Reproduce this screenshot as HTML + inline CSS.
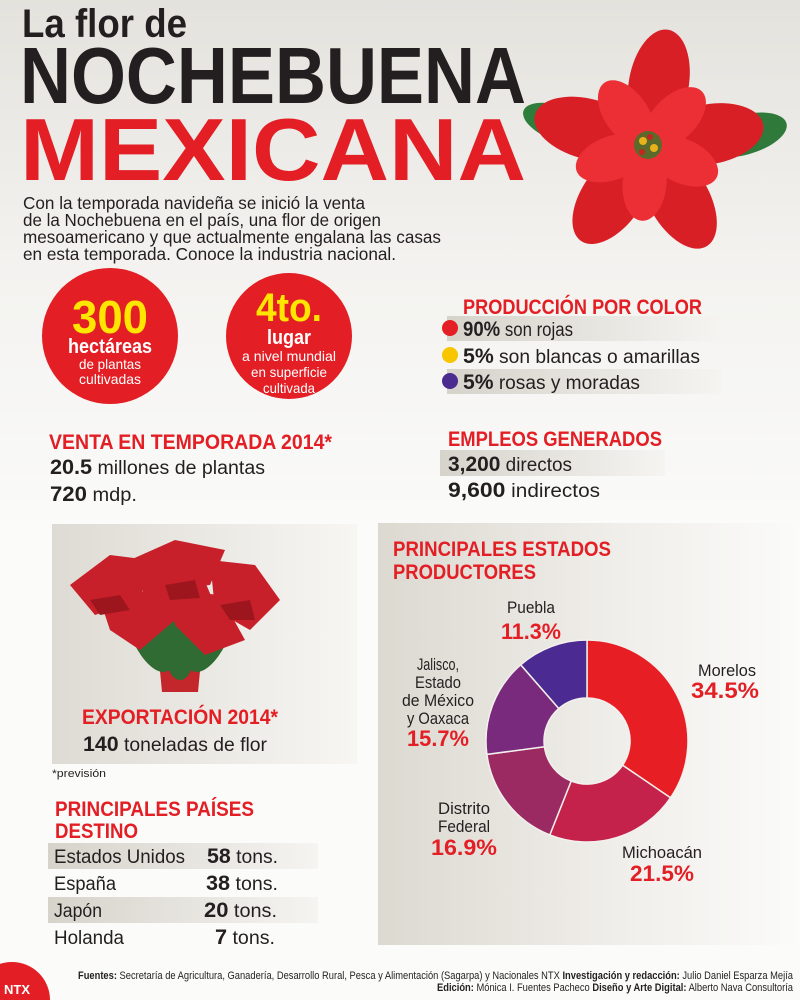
<!DOCTYPE html>
<html><head><meta charset="utf-8"><style>
html,body{margin:0;padding:0;width:800px;height:1000px;overflow:hidden;background:#fff}
svg{display:block}
text{font-family:"Liberation Sans Narrow","Liberation Sans",sans-serif}
</style></head><body>
<svg width="800" height="1000" viewBox="0 0 800 1000" xmlns="http://www.w3.org/2000/svg">
<defs>
<linearGradient id="bg" x1="0" y1="0" x2="0" y2="1"><stop offset="0" stop-color="#e4e2dd"/><stop offset="0.5" stop-color="#f3f2ef"/><stop offset="1" stop-color="#fafaf9"/></linearGradient>
<linearGradient id="pl" x1="0" y1="0" x2="1" y2="0"><stop offset="0" stop-color="#dedbd4"/><stop offset="1" stop-color="#f7f6f3"/></linearGradient>
<linearGradient id="pr" x1="0" y1="0" x2="1" y2="0"><stop offset="0" stop-color="#dcd9d1"/><stop offset="0.6" stop-color="#f1efeb"/><stop offset="1" stop-color="#fbfbfa"/></linearGradient>
<linearGradient id="bar" x1="0" y1="0" x2="1" y2="0"><stop offset="0" stop-color="#d6d3cb"/><stop offset="1" stop-color="#f5f4f1"/></linearGradient>
</defs>
<rect width="800" height="520" fill="url(#bg)"/>
<rect y="520" width="800" height="480" fill="#fbfbfa"/>

<!-- title -->
<text x="22" y="37" font-size="40" font-weight="bold" fill="#231f20" textLength="165" lengthAdjust="spacingAndGlyphs">La flor de</text>
<text x="20" y="103" font-size="80" font-weight="bold" fill="#231f20" textLength="506" lengthAdjust="spacingAndGlyphs">NOCHEBUENA</text>
<text x="20" y="180" font-size="88" font-weight="bold" fill="#e31e24" textLength="506" lengthAdjust="spacingAndGlyphs">MEXICANA</text>
<g font-size="17.5" fill="#231f20">
<text x="23" y="209" textLength="342" lengthAdjust="spacingAndGlyphs">Con la temporada navideña se inició la venta</text>
<text x="23" y="226" textLength="358" lengthAdjust="spacingAndGlyphs">de la Nochebuena en el país, una flor de origen</text>
<text x="23" y="243" textLength="418" lengthAdjust="spacingAndGlyphs">mesoamericano y que actualmente engalana las casas</text>
<text x="23" y="260" textLength="373" lengthAdjust="spacingAndGlyphs">en esta temporada. Conoce la industria nacional.</text>
</g>

<!-- big poinsettia -->
<g transform="translate(648,145)">
<ellipse cx="95" cy="-10" rx="45" ry="20" fill="#2f7a3a" transform="rotate(-15 95 -10)"/>
<ellipse cx="-85" cy="-20" rx="42" ry="18" fill="#2e7d3a" transform="rotate(20 -85 -20)"/>
<g fill="#d81f26">
<ellipse cx="0" cy="-62" rx="30" ry="55" transform="rotate(10)"/>
<ellipse cx="0" cy="-62" rx="30" ry="55" transform="rotate(80)"/>
<ellipse cx="0" cy="-62" rx="30" ry="55" transform="rotate(150)"/>
<ellipse cx="0" cy="-62" rx="30" ry="55" transform="rotate(215)"/>
<ellipse cx="0" cy="-62" rx="30" ry="55" transform="rotate(285)"/>
</g>
<g fill="#ec2f35">
<ellipse cx="0" cy="-38" rx="22" ry="38" transform="rotate(45)"/>
<ellipse cx="0" cy="-38" rx="22" ry="38" transform="rotate(115)"/>
<ellipse cx="0" cy="-38" rx="22" ry="38" transform="rotate(185)"/>
<ellipse cx="0" cy="-38" rx="22" ry="38" transform="rotate(250)"/>
<ellipse cx="0" cy="-38" rx="22" ry="38" transform="rotate(325)"/>
</g>
<circle r="14" fill="#5b6a2a"/>
<circle cx="-5" cy="-4" r="4" fill="#e8b21c"/><circle cx="6" cy="3" r="4" fill="#e8b21c"/><circle cx="2" cy="-8" r="3" fill="#c3261c"/><circle cx="-6" cy="7" r="3" fill="#c3261c"/>
</g>

<!-- circles -->
<circle cx="110" cy="336" r="68" fill="#e31e24"/>
<text x="110" y="333" font-size="46" font-weight="bold" fill="#ffe600" text-anchor="middle" textLength="76" lengthAdjust="spacingAndGlyphs">300</text>
<text x="110" y="353" font-size="20" font-weight="bold" fill="#fff" text-anchor="middle" textLength="84" lengthAdjust="spacingAndGlyphs">hectáreas</text>
<text x="110" y="369" font-size="14" fill="#fff" text-anchor="middle" textLength="62" lengthAdjust="spacingAndGlyphs">de plantas</text>
<text x="110" y="384" font-size="14" fill="#fff" text-anchor="middle" textLength="62" lengthAdjust="spacingAndGlyphs">cultivadas</text>
<circle cx="289" cy="336" r="63" fill="#e31e24"/>
<text x="289" y="321" font-size="40" font-weight="bold" fill="#ffe600" text-anchor="middle" textLength="66" lengthAdjust="spacingAndGlyphs">4to.</text>
<text x="289" y="344" font-size="20" font-weight="bold" fill="#fff" text-anchor="middle" textLength="44" lengthAdjust="spacingAndGlyphs">lugar</text>
<text x="289" y="361" font-size="14" fill="#fff" text-anchor="middle" textLength="94" lengthAdjust="spacingAndGlyphs">a nivel mundial</text>
<text x="289" y="377" font-size="14" fill="#fff" text-anchor="middle" textLength="76" lengthAdjust="spacingAndGlyphs">en superficie</text>
<text x="289" y="393" font-size="14" fill="#fff" text-anchor="middle" textLength="52" lengthAdjust="spacingAndGlyphs">cultivada</text>

<!-- produccion -->
<text x="463" y="314" font-size="21" font-weight="bold" fill="#e31e24" textLength="239" lengthAdjust="spacingAndGlyphs">PRODUCCIÓN POR COLOR</text>
<rect x="447" y="316" width="275" height="25" fill="url(#bar)"/>
<rect x="447" y="369" width="275" height="25" fill="url(#bar)"/>
<g font-size="19" fill="#231f20">
<text x="463" y="336" textLength="110" lengthAdjust="spacingAndGlyphs"><tspan font-weight="bold" font-size="21">90%</tspan> son rojas</text>
<text x="463" y="363" textLength="237" lengthAdjust="spacingAndGlyphs"><tspan font-weight="bold" font-size="21">5%</tspan> son blancas o amarillas</text>
<text x="463" y="389" textLength="177" lengthAdjust="spacingAndGlyphs"><tspan font-weight="bold" font-size="21">5%</tspan> rosas y moradas</text>
</g>
<circle cx="450" cy="328" r="8" fill="#e31e24"/>
<circle cx="450" cy="355" r="8" fill="#f7c600"/>
<circle cx="450" cy="381" r="8" fill="#4b2b8f"/>

<!-- venta -->
<text x="49" y="449" font-size="21" font-weight="bold" fill="#e31e24" textLength="283" lengthAdjust="spacingAndGlyphs">VENTA EN TEMPORADA 2014*</text>
<text x="50" y="474" font-size="19" fill="#231f20" textLength="215" lengthAdjust="spacingAndGlyphs"><tspan font-weight="bold" font-size="21">20.5</tspan> millones de plantas</text>
<text x="50" y="501" font-size="19" fill="#231f20" textLength="87" lengthAdjust="spacingAndGlyphs"><tspan font-weight="bold" font-size="21">720</tspan> mdp.</text>

<!-- empleos -->
<text x="448" y="446" font-size="21" font-weight="bold" fill="#e31e24" textLength="214" lengthAdjust="spacingAndGlyphs">EMPLEOS GENERADOS</text>
<rect x="440" y="450" width="225" height="26" fill="url(#bar)"/>
<text x="448" y="471" font-size="19" fill="#231f20" textLength="124" lengthAdjust="spacingAndGlyphs"><tspan font-weight="bold" font-size="21">3,200</tspan>  directos</text>
<text x="448" y="497" font-size="19" fill="#231f20" textLength="152" lengthAdjust="spacingAndGlyphs"><tspan font-weight="bold" font-size="21">9,600</tspan>  indirectos</text>

<!-- left panel -->
<rect x="52" y="524" width="305" height="240" fill="url(#pl)"/>
<g>
<path d="M158 650 L202 650 L198 692 L162 692 Z" fill="#c3262b"/>
<g fill="#2f6b33">
<ellipse cx="150" cy="635" rx="18" ry="40" transform="rotate(-25 150 635)"/>
<ellipse cx="210" cy="635" rx="18" ry="40" transform="rotate(25 210 635)"/>
<ellipse cx="180" cy="645" rx="16" ry="35"/>
</g>
<g fill="#c8202a">
<path d="M70 585 L110 555 L150 560 L140 600 L95 615 Z"/>
<path d="M130 560 L175 540 L225 550 L210 585 L150 590 Z"/>
<path d="M210 560 L255 565 L280 600 L250 630 L215 610 Z"/>
<path d="M100 600 L150 590 L175 620 L140 650 L110 630 Z"/>
<path d="M170 590 L220 595 L245 640 L205 655 L175 625 Z"/>
<path d="M140 575 L200 570 L215 605 L180 625 L145 605 Z"/>
</g>
<g fill="#9e161d">
<path d="M90 600 L120 595 L130 610 L100 615 Z"/>
<path d="M220 605 L250 600 L255 620 L230 620 Z"/>
<path d="M165 585 L195 580 L200 598 L170 600 Z"/>
</g>
</g>
<text x="82" y="724" font-size="21" font-weight="bold" fill="#e31e24" textLength="196" lengthAdjust="spacingAndGlyphs">EXPORTACIÓN 2014*</text>
<text x="83" y="751" font-size="19" fill="#231f20" textLength="184" lengthAdjust="spacingAndGlyphs"><tspan font-weight="bold" font-size="21">140</tspan> toneladas de flor</text>
<text x="52" y="777" font-size="11" fill="#231f20" textLength="54" lengthAdjust="spacingAndGlyphs">*previsión</text>

<!-- paises -->
<text x="55" y="816" font-size="21" font-weight="bold" fill="#e31e24" textLength="199" lengthAdjust="spacingAndGlyphs">PRINCIPALES PAÍSES</text>
<text x="55" y="838" font-size="21" font-weight="bold" fill="#e31e24" textLength="83" lengthAdjust="spacingAndGlyphs">DESTINO</text>
<rect x="48" y="843" width="270" height="26" fill="url(#bar)"/>
<rect x="48" y="897" width="270" height="26" fill="url(#bar)"/>
<g font-size="19" fill="#231f20">
<text x="54" y="863" textLength="131" lengthAdjust="spacingAndGlyphs">Estados Unidos</text>
<text x="54" y="890" textLength="62" lengthAdjust="spacingAndGlyphs">España</text>
<text x="54" y="917" textLength="48" lengthAdjust="spacingAndGlyphs">Japón</text>
<text x="54" y="944" textLength="70" lengthAdjust="spacingAndGlyphs">Holanda</text>
<text x="207" y="863" textLength="71" lengthAdjust="spacingAndGlyphs"><tspan font-weight="bold" font-size="21">58</tspan> tons.</text>
<text x="206" y="890" textLength="72" lengthAdjust="spacingAndGlyphs"><tspan font-weight="bold" font-size="21">38</tspan> tons.</text>
<text x="204" y="917" textLength="73" lengthAdjust="spacingAndGlyphs"><tspan font-weight="bold" font-size="21">20</tspan> tons.</text>
<text x="215" y="944" textLength="60" lengthAdjust="spacingAndGlyphs"><tspan font-weight="bold" font-size="21">7</tspan> tons.</text>
</g>

<!-- right panel -->
<rect x="378" y="523" width="422" height="422" fill="url(#pr)"/>
<text x="393" y="556" font-size="21" font-weight="bold" fill="#e31e24" textLength="218" lengthAdjust="spacingAndGlyphs">PRINCIPALES ESTADOS</text>
<text x="393" y="579" font-size="21" font-weight="bold" fill="#e31e24" textLength="143" lengthAdjust="spacingAndGlyphs">PRODUCTORES</text>
<g stroke="#f2f0ec" stroke-width="1.5">
<path d="M587 640 A101 101 0 0 1 670.5 797.8 L622.6 765.2 A43 43 0 0 0 587 698 Z" fill="#e81e25"/>
<path d="M670.5 797.8 A101 101 0 0 1 549.8 834.9 L571.2 781 A43 43 0 0 0 622.6 765.2 Z" fill="#c4224a"/>
<path d="M549.8 834.9 A101 101 0 0 1 486.9 754.4 L544.4 746.7 A43 43 0 0 0 571.2 781 Z" fill="#9b2962"/>
<path d="M486.9 754.4 A101 101 0 0 1 520.7 664.8 L558.8 708.5 A43 43 0 0 0 544.4 746.7 Z" fill="#7a2a7c"/>
<path d="M520.7 664.8 A101 101 0 0 1 587 640 L587 698 A43 43 0 0 0 558.8 708.5 Z" fill="#4b2b91"/>
</g>
<g font-size="17" fill="#231f20" text-anchor="middle">
<text x="531" y="613" textLength="48" lengthAdjust="spacingAndGlyphs">Puebla</text>
<text x="727" y="676" textLength="58" lengthAdjust="spacingAndGlyphs">Morelos</text>
<text x="438" y="670" textLength="42" lengthAdjust="spacingAndGlyphs">Jalisco,</text>
<text x="438" y="688" textLength="46" lengthAdjust="spacingAndGlyphs">Estado</text>
<text x="438" y="706" textLength="72" lengthAdjust="spacingAndGlyphs">de México</text>
<text x="438" y="724" textLength="62" lengthAdjust="spacingAndGlyphs">y Oaxaca</text>
<text x="464" y="814" textLength="52" lengthAdjust="spacingAndGlyphs">Distrito</text>
<text x="464" y="832" textLength="52" lengthAdjust="spacingAndGlyphs">Federal</text>
<text x="662" y="858" textLength="80" lengthAdjust="spacingAndGlyphs">Michoacán</text>
</g>
<g font-size="22" font-weight="bold" fill="#e31e24" text-anchor="middle">
<text x="531" y="639" textLength="60" lengthAdjust="spacingAndGlyphs">11.3%</text>
<text x="725" y="698" textLength="68" lengthAdjust="spacingAndGlyphs">34.5%</text>
<text x="438" y="746" textLength="62" lengthAdjust="spacingAndGlyphs">15.7%</text>
<text x="464" y="855" textLength="66" lengthAdjust="spacingAndGlyphs">16.9%</text>
<text x="662" y="881" textLength="64" lengthAdjust="spacingAndGlyphs">21.5%</text>
</g>

<!-- footer -->
<circle cx="12" cy="1000" r="38" fill="#e31e24"/>
<text x="4" y="994" font-size="13" font-weight="bold" fill="#fff">NTX</text>
<g font-size="11" fill="#231f20" text-anchor="end">
<text x="793" y="979" textLength="715" lengthAdjust="spacingAndGlyphs"><tspan font-weight="bold">Fuentes:</tspan> Secretaría de Agricultura, Ganadería, Desarrollo Rural, Pesca y Alimentación (Sagarpa) y Nacionales NTX  <tspan font-weight="bold">Investigación y redacción:</tspan> Julio Daniel Esparza Mejía</text>
<text x="793" y="991" textLength="356" lengthAdjust="spacingAndGlyphs"><tspan font-weight="bold">Edición:</tspan> Mónica I. Fuentes Pacheco  <tspan font-weight="bold">Diseño y Arte Digital:</tspan> Alberto Nava Consultoría</text>
</g>
</svg>
</body></html>
